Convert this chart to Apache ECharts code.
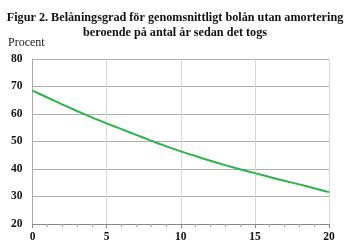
<!DOCTYPE html>
<html><head><meta charset="utf-8">
<script src="https://cdn.jsdelivr.net/npm/echarts@6/dist/echarts.min.js"></script>
<style>html,body{margin:0;padding:0;background:#fff}#c{width:350px;height:250px}</style>
</head><body><div id="c"></div>
<script>
const years = [0,1,2,3,4,5,6,7,8,9,10,11,12,13,14,15,16,17,18,19,20];
const ltv = [68.5,66.0,63.5,61.1,58.8,56.6,54.5,52.4,50.3,48.3,46.4,44.7,43.0,41.4,39.9,38.5,37.1,35.7,34.4,33.0,31.6];
const yTicks = [20,30,40,50,60,70,80];
const titleText = 'Figur 2. Belåningsgrad för genomsnittligt bolån utan amortering\nberoende på antal år sedan det togs';
const yName = 'Procent';
const serif = '"Liberation Serif", "DejaVu Serif", serif';
const chart = echarts.init(document.getElementById('c'), null, {renderer:'canvas'});
chart.setOption({
  animation:false,
  title:{text:titleText,left:'center',top:5,textStyle:{fontFamily:serif,fontWeight:'bold',fontSize:12.2,lineHeight:15,color:'#111'}},
  grid:{left:32.5,right:21,top:59,bottom:26},
  graphic:[{type:'text',left:8,top:37,style:{text:yName,font:'12px '+serif,fill:'#222'}}],
  xAxis:{type:'value',min:0,max:20,interval:5,
    axisLine:{show:true,lineStyle:{color:'#888'}},
    axisTick:{show:true,length:4,lineStyle:{color:'#888'}},
    minorTick:{show:true,splitNumber:5,length:3,lineStyle:{color:'#aaa'}},
    splitLine:{show:true,lineStyle:{color:'#d8d8d8'}},
    axisLabel:{fontFamily:serif,fontWeight:'bold',fontSize:11.5,color:'#111',margin:7}},
  yAxis:{type:'value',min:yTicks[0],max:yTicks[yTicks.length-1],interval:10,
    axisLine:{show:true,lineStyle:{color:'#aaa'}},
    axisTick:{show:false},
    splitLine:{show:true,lineStyle:{color:'#b0b0b0'}},
    axisLabel:{fontFamily:serif,fontWeight:'bold',fontSize:11.5,color:'#111',margin:10}},
  series:[{type:'line',data:years.map((x,i)=>[x,ltv[i]]),showSymbol:false,smooth:0.3,
    lineStyle:{color:'#2db34a',width:2}}]
});
</script></body></html>
